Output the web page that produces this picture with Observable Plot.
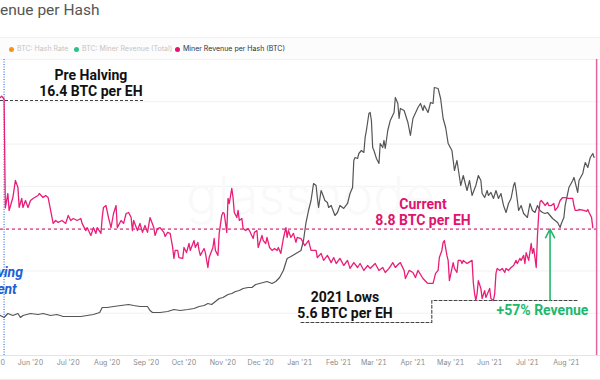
<!DOCTYPE html>
<html><head><meta charset="utf-8">
<script src="https://cdn.jsdelivr.net/npm/d3@7"></script>
<script src="https://cdn.jsdelivr.net/npm/@observablehq/plot@0.6"></script>
<style>
body{margin:0;width:600px;height:380px;overflow:hidden;background:#fff;position:relative;font-family:Inter,"Noto Sans",sans-serif}
#title{position:absolute;left:0;top:3px;font:15.5px/1 Roboto,sans-serif;color:#555;white-space:nowrap}
#legend{position:absolute;left:0;top:37px;width:600px;height:21px;background:#fcfcfc;border-top:1px solid #f1f1f1;border-bottom:1px solid #ebebeb}
.li{position:absolute;top:0;height:21px;line-height:21px;font-size:7px;white-space:nowrap;font-family:Inter,sans-serif}
.dot{display:inline-block;width:5px;height:5px;border-radius:50%;margin-right:3px;vertical-align:-0.5px}
#chart{position:absolute;left:0;top:59px;width:600px;height:321px}
#chart svg{position:absolute;left:0;top:0}
#foot{position:absolute;left:0;top:379px;width:600px;height:1px;background:#ececec}
</style></head>
<body>
<div id="title">enue per Hash</div>
<div id="legend"></div>
<div id="chart"></div>
<div id="foot"></div>
<script>
// ---- data ----
const legendItems = [
  {label: "BTC: Hash Rate", color: "#f7931a", active: false},
  {label: "BTC: Miner Revenue (Total)", color: "#2fbf8a", active: false},
  {label: "Miner Revenue per Hash (BTC)", color: "#e6126f", active: true}
];
const legendLeft = [9, 74, 175];

// Miner revenue per hash (BTC per EH)
const revenuePerHash = [
["2020-05-08",16.6],["2020-05-09",16.7],["2020-05-10",16.6],["2020-05-11",16.5],["2020-05-12",9.9],
["2020-05-14",10.67],["2020-05-15",9.76],["2020-05-18",10.45],["2020-05-20",11.4],["2020-05-22",11.01],
["2020-05-23",9.92],["2020-05-25",10.4],["2020-05-26",9.92],["2020-05-28",10.29],["2020-05-30",9.92],
["2020-06-01",10.29],["2020-06-03",10.4],["2020-06-07",10.56],["2020-06-08",10.67],["2020-06-11",10.45],
["2020-06-13",10.56],["2020-06-15",10.45],["2020-06-17",9.76],["2020-06-19",9.09],["2020-06-21",9.24],
["2020-06-23",9.14],["2020-06-26",9.24],["2020-06-29",9.09],["2020-07-01",9.5],["2020-07-03",9.24],
["2020-07-05",9.34],["2020-07-08",9.24],["2020-07-11",9.34],["2020-07-12",9.09],["2020-07-15",8.73],
["2020-07-16",8.88],["2020-07-19",8.49],["2020-07-21",8.88],["2020-07-23",8.59],["2020-07-24",8.88],
["2020-07-27",8.59],["2020-07-28",9.39],["2020-07-29",9.92],["2020-07-31",10.02],["2020-08-02",9.39],
["2020-08-04",8.88],["2020-08-06",9.6],["2020-08-08",10.02],["2020-08-09",8.88],["2020-08-12",9.24],
["2020-08-14",9.09],["2020-08-16",9.6],["2020-08-18",9.65],["2020-08-20",9.39],["2020-08-21",8.73],
["2020-08-22",9.24],["2020-08-25",8.73],["2020-08-27",9.09],["2020-08-29",8.64],["2020-08-31",8.99],
["2020-09-02",8.64],["2020-09-04",9.39],["2020-09-07",8.88],["2020-09-08",8.49],["2020-09-10",8.83],
["2020-09-12",8.88],["2020-09-15",8.64],["2020-09-16",8.44],["2020-09-18",8.64],["2020-09-20",8.59],
["2020-09-22",7.91],["2020-09-23",7.4],["2020-09-24",7.77],["2020-09-26",7.77],["2020-09-27",7.44],
["2020-09-30",7.4],["2020-10-01",7.91],["2020-10-03",7.67],["2020-10-05",8.1],["2020-10-06",7.77],
["2020-10-09",8.24],["2020-10-10",7.91],["2020-10-12",8.15],["2020-10-13",7.77],["2020-10-14",7.54],
["2020-10-17",7.86],["2020-10-18",7.67],["2020-10-20",6.99],["2020-10-21",7.44],["2020-10-24",7.91],
["2020-10-25",8.34],["2020-10-26",7.77],["2020-10-28",7.54],["2020-10-29",8.59],["2020-10-31",9.5],
["2020-11-01",9.65],["2020-11-02",9.6],["2020-11-04",8.64],["2020-11-05",10.4],["2020-11-06",10.13],
["2020-11-08",10.95],["2020-11-09",10.45],["2020-11-10",9.65],["2020-11-12",9.39],["2020-11-13",9.76],
["2020-11-14",9.24],["2020-11-16",9.34],["2020-11-17",8.83],["2020-11-19",8.73],["2020-11-21",8.83],
["2020-11-22",8.73],["2020-11-25",8.34],["2020-11-26",8.64],["2020-11-28",8.73],["2020-11-29",7.91],
["2020-12-02",8.49],["2020-12-03",8.24],["2020-12-05",8.1],["2020-12-06",8.39],["2020-12-08",7.91],
["2020-12-10",7.77],["2020-12-12",7.86],["2020-12-14",7.77],["2020-12-15",7.91],["2020-12-17",7.63],
["2020-12-18",8.0],["2020-12-19",8.34],["2020-12-21",8.88],["2020-12-22",8.39],["2020-12-23",8.73],
["2020-12-25",8.39],["2020-12-27",8.59],["2020-12-29",8.15],["2020-12-30",8.39],["2021-01-02",8.34],
["2021-01-05",8.0],["2021-01-08",8.24],["2021-01-10",7.77],["2021-01-14",7.77],["2021-01-15",7.44],
["2021-01-18",7.63],["2021-01-20",7.31],["2021-01-23",7.54],["2021-01-26",7.21],["2021-01-28",7.44],
["2021-01-30",7.17],["2021-02-02",7.4],["2021-02-05",7.08],["2021-02-08",7.31],["2021-02-10",6.95],
["2021-02-13",7.21],["2021-02-16",6.99],["2021-02-18",7.17],["2021-02-21",6.86],["2021-02-24",7.08],
["2021-02-26",6.95],["2021-03-02",7.17],["2021-03-05",6.86],["2021-03-08",6.99],["2021-03-10",6.77],
["2021-03-13",6.95],["2021-03-16",7.21],["2021-03-18",6.99],["2021-03-21",7.17],["2021-03-22",7.21],
["2021-03-25",6.86],["2021-03-26",6.51],["2021-03-29",6.86],["2021-04-01",6.77],["2021-04-03",6.55],
["2021-04-05",6.86],["2021-04-09",6.51],["2021-04-12",6.34],["2021-04-13",6.3],["2021-04-17",6.3],
["2021-04-19",6.73],["2021-04-21",6.86],["2021-04-22",7.44],["2021-04-24",7.77],["2021-04-25",8.15],
["2021-04-26",8.24],["2021-04-28",7.54],["2021-04-29",7.31],["2021-04-30",6.42],["2021-05-02",6.95],
["2021-05-03",7.21],["2021-05-04",6.95],["2021-05-06",6.77],["2021-05-07",7.31],["2021-05-09",7.31],
["2021-05-10",7.17],["2021-05-11",7.31],["2021-05-14",7.17],["2021-05-15",7.21],["2021-05-18",7.31],
["2021-05-19",6.34],["2021-05-20",5.88],["2021-05-21",5.6],["2021-05-22",5.88],["2021-05-23",6.42],
["2021-05-25",6.09],["2021-05-26",5.68],["2021-05-28",6.0],["2021-05-29",5.72],["2021-06-01",6.09],
["2021-06-02",5.68],["2021-06-04",5.6],["2021-06-05",5.88],["2021-06-06",6.73],["2021-06-07",6.95],
["2021-06-09",6.86],["2021-06-11",6.95],["2021-06-13",6.77],["2021-06-14",6.95],["2021-06-16",6.86],
["2021-06-18",6.99],["2021-06-20",7.08],["2021-06-22",7.31],["2021-06-23",7.17],["2021-06-25",7.4],
["2021-06-26",7.31],["2021-06-28",7.54],["2021-06-29",7.17],["2021-06-30",7.67],["2021-07-02",7.31],
["2021-07-04",8.1],["2021-07-05",7.63],["2021-07-06",7.86],["2021-07-07",7.44],["2021-07-08",6.99],
["2021-07-09",8.5],["2021-07-10",9.6],["2021-07-11",10.2],["2021-07-12",10.29],["2021-07-14",10.13],
["2021-07-15",10.02],["2021-07-17",10.18],["2021-07-18",10.02],["2021-07-20",10.02],["2021-07-22",10.13],
["2021-07-23",9.76],["2021-07-25",9.92],["2021-07-27",10.29],["2021-07-29",10.45],["2021-07-31",10.45],
["2021-08-02",10.4],["2021-08-04",10.4],["2021-08-06",10.4],["2021-08-07",10.02],["2021-08-08",9.76],
["2021-08-10",9.76],["2021-08-11",9.81],["2021-08-15",9.76],["2021-08-17",9.71],["2021-08-18",9.81],
["2021-08-19",9.65],["2021-08-21",9.39],["2021-08-22",8.88]
];

// BTC price (USD), grey line
const btcPrice = [
["2020-05-08",9460],["2020-05-11",8990],["2020-05-14",9930],["2020-05-18",9460],["2020-05-22",9930],
["2020-05-24",8990],["2020-05-26",9460],["2020-06-01",9930],["2020-06-07",9700],["2020-06-11",9930],
["2020-06-17",9460],["2020-06-22",9700],["2020-06-27",9220],["2020-07-03",9220],["2020-07-11",9220],
["2020-07-16",9460],["2020-07-21",9700],["2020-07-26",10170],["2020-07-28",11350],["2020-08-01",11350],
["2020-08-06",11590],["2020-08-12",11830],["2020-08-18",12060],["2020-08-22",11830],["2020-08-27",11590],
["2020-09-02",11590],["2020-09-04",10640],["2020-09-06",10170],["2020-09-12",10170],["2020-09-18",10400],
["2020-09-23",10880],["2020-09-28",10640],["2020-10-04",10880],["2020-10-09",11120],["2020-10-13",11590],
["2020-10-17",11830],["2020-10-20",12300],["2020-10-23",12060],["2020-10-26",12770],["2020-10-29",13480],
["2020-11-01",13720],["2020-11-05",14430],["2020-11-08",14660],["2020-11-11",15140],["2020-11-14",15370],
["2020-11-17",15850],["2020-11-21",16080],["2020-11-24",16080],["2020-11-27",16790],["2020-11-30",17030],
["2020-12-03",17260],["2020-12-06",17500],["2020-12-10",17030],["2020-12-13",17500],["2020-12-16",18450],
["2020-12-19",20100],["2020-12-22",22940],["2020-12-25",23410],["2020-12-29",24120],["2021-01-02",24830],
["2021-01-04",27200],["2021-01-06",31450],["2021-01-08",34290],["2021-01-10",36660],["2021-01-12",40680],
["2021-01-14",40200],["2021-01-15",37370],["2021-01-16",35000],["2021-01-18",39020],["2021-01-19",38310],
["2021-01-21",36660],["2021-01-23",36180],["2021-01-24",35000],["2021-01-26",35480],["2021-01-29",33110],
["2021-01-31",33820],["2021-02-02",35480],["2021-02-05",34770],["2021-02-08",35950],["2021-02-10",38310],
["2021-02-12",39730],["2021-02-13",46120],["2021-02-14",46830],["2021-02-16",46590],["2021-02-17",47770],
["2021-02-19",48480],["2021-02-21",48010],["2021-02-22",51560],["2021-02-23",53210],["2021-02-25",57230],
["2021-02-26",57470],["2021-02-27",55580],["2021-02-28",49190],["2021-03-01",48480],["2021-03-03",46590],
["2021-03-05",45410],["2021-03-06",50140],["2021-03-08",49190],["2021-03-09",50850],["2021-03-10",48960],
["2021-03-12",53210],["2021-03-14",55580],["2021-03-17",57470],["2021-03-18",61020],["2021-03-20",59600],
["2021-03-21",56050],["2021-03-22",58420],["2021-03-25",57940],["2021-03-28",55100],["2021-03-30",52030],
["2021-04-01",56050],["2021-04-05",58650],["2021-04-07",59600],["2021-04-09",57940],["2021-04-10",59130],
["2021-04-13",57470],["2021-04-15",59830],["2021-04-17",59600],["2021-04-18",63380],["2021-04-21",63150],
["2021-04-22",61960],["2021-04-23",60780],["2021-04-25",56050],["2021-04-27",53920],["2021-04-29",50140],
["2021-05-02",48480],["2021-05-04",43750],["2021-05-06",46120],["2021-05-09",40200],["2021-05-11",42570],
["2021-05-14",39020],["2021-05-16",41390],["2021-05-18",37840],["2021-05-21",40200],["2021-05-23",42570],
["2021-05-25",41390],["2021-05-26",38310],["2021-05-28",37370],["2021-05-30",39020],["2021-05-31",37840],
["2021-06-02",38550],["2021-06-04",37130],["2021-06-06",39020],["2021-06-08",37130],["2021-06-10",38310],
["2021-06-12",35480],["2021-06-14",33820],["2021-06-16",35950],["2021-06-18",37130],["2021-06-20",40200],
["2021-06-21",40910],["2021-06-22",39020],["2021-06-24",34290],["2021-06-26",35480],["2021-06-28",33580],
["2021-07-01",32640],["2021-07-03",35950],["2021-07-05",34290],["2021-07-07",33820],["2021-07-09",35480],
["2021-07-11",34290],["2021-07-13",33820],["2021-07-15",33580],["2021-07-17",33820],["2021-07-19",33110],
["2021-07-21",32400],["2021-07-23",31930],["2021-07-25",31450],["2021-07-27",30270],["2021-07-28",31220],
["2021-07-30",32640],["2021-07-31",35480],["2021-08-02",38310],["2021-08-03",39730],["2021-08-06",41390],
["2021-08-07",42100],["2021-08-09",39730],["2021-08-10",38550],["2021-08-11",41390],["2021-08-14",43040],
["2021-08-15",44460],["2021-08-16",45640],["2021-08-18",44460],["2021-08-19",45640],["2021-08-20",46830],
["2021-08-22",47770],["2021-08-23",46830]
];

const priceGrid = [10000, 20000, 30000, 40000, 50000, 60000, 70000];
const monthTicks = d3.utcMonth.range(new Date("2020-05-01"), new Date("2021-08-02"));
const xDomain = [new Date("2020-05-08T03:36Z"), new Date("2021-08-28T02:24Z")];
const halvingDate = new Date("2020-05-11");
const todayDate = new Date("2021-08-25");

const preHalvingLevel = 16.4;
const currentLevel = 8.8;
const lowLevel = 5.6;
const preHalvingLineEnd = new Date("2020-08-31");
const lowsBracket = [["2021-01-02", 4.76], ["2021-04-16", 4.76], ["2021-04-16", 5.6], ["2021-08-11", 5.6]];
const revenueArrow = [{date: "2021-07-19", from: 5.6, to: 8.8}];

const notes = [
  {date: "2020-07-19", level: 16.4, head: "Pre Halving", body: "16.4 BTC per EH", color: "#111"},
  {date: "2021-04-09", level: 8.8, head: "Current", body: "8.8 BTC per EH", color: "#e0136f"},
  {date: "2021-02-06", level: 4.76, head: "2021 Lows", body: "5.6 BTC per EH", color: "#111"}
];
const gainNote = [{date: "2021-07-13", level: 5.6, text: "+57% Revenue"}];
const halvingNote = [{date: "2020-05-10", level: 5.88, text: "Halving\nEvent"}];

// ---- legend ----
const leg = document.getElementById("legend");
legendItems.forEach((d, i) => {
  const s = document.createElement("span");
  s.className = "li";
  s.style.left = legendLeft[i] + "px";
  s.style.color = d.active ? "#333" : "#c4c4c4";
  s.innerHTML = `<span class="dot" style="background:${d.color}"></span>${d.label}`;
  leg.appendChild(s);
});

// ---- charts ----
const W = 600, H = 321, MB = 25;
const D = d => new Date(d);

const base = Plot.plot({
  width: W, height: H, marginTop: 0, marginBottom: MB, marginLeft: 0, marginRight: 0,
  x: {type: "utc", domain: xDomain, ticks: monthTicks, tickFormat: d3.utcFormat("%b '%y"), tickSize: 0, tickPadding: 5, label: null},
  y: {domain: [0, 70000], axis: null},
  style: {fontFamily: "Inter, sans-serif", fontSize: "7px", color: "#8a8a8a", background: "white"},
  marks: [
    Plot.ruleY(priceGrid, {stroke: "#f1f1f1"}),
    Plot.ruleY([0], {stroke: "#e4e4e4"}),
    Plot.text(["glassnode"], {frameAnchor: "middle", dx: 10, dy: -10, fontSize: 52, fontWeight: 300, fill: "#f9f9f9", fontFamily: "Inter"}),
    Plot.line(btcPrice, {x: d => D(d[0]), y: d => d[1], stroke: "#555", strokeWidth: 1.2})
  ]
});

const over = Plot.plot({
  width: W, height: H, marginTop: 0, marginBottom: MB, marginLeft: 0, marginRight: 0,
  x: {type: "utc", domain: xDomain, axis: null},
  y: {type: "sqrt", domain: [3.623, 19.31], axis: null},
  style: {background: "transparent", fontFamily: "Roboto, sans-serif"},
  marks: [
    Plot.ruleX([halvingDate], {stroke: "#3a78d8", strokeWidth: 1.2, strokeDasharray: "1,1.5"}),
    Plot.ruleX([todayDate], {stroke: "#e463a3", strokeWidth: 1.5}),
    Plot.ruleY([preHalvingLevel], {x1: xDomain[0], x2: preHalvingLineEnd, stroke: "#444", strokeWidth: 1.1, strokeDasharray: "3,2"}),
    Plot.ruleY([currentLevel], {x1: xDomain[0], x2: todayDate, stroke: "#e0307f", strokeWidth: 1.1, strokeDasharray: "3,3"}),
    Plot.line(lowsBracket, {x: d => D(d[0]), y: d => d[1], stroke: "#444", strokeWidth: 1.1, strokeDasharray: "3,2"}),
    Plot.line(revenuePerHash, {x: d => D(d[0]), y: d => d[1], stroke: "#ea1d78", strokeWidth: 1.3}),
    Plot.arrow(revenueArrow, {x1: d => D(d.date), x2: d => D(d.date), y1: "from", y2: "to", stroke: "#22b76c", strokeWidth: 1.6, headLength: 9, headAngle: 55}),
    Plot.text(notes, {x: d => D(d.date), y: "level", text: "body", fill: "color", dy: -4, lineAnchor: "bottom", fontSize: 14, fontWeight: 700}),
    Plot.text(notes, {x: d => D(d.date), y: "level", text: "head", fill: "color", dy: -20, lineAnchor: "bottom", fontSize: 14, fontWeight: 700, ariaLabel: "underlined"}),
    Plot.text(gainNote, {x: d => D(d.date), y: "level", text: "text", fill: "#22b76c", dy: 15, lineAnchor: "bottom", fontSize: 14, fontWeight: 700}),
    Plot.text(halvingNote, {x: d => D(d.date), y: "level", text: "text", fill: "#1a62d6", dx: -3, lineAnchor: "bottom", lineHeight: 1.15, fontSize: 14, fontWeight: 700, fontStyle: "italic"})
  ]
});
over.querySelectorAll('g[aria-label="underlined"] text').forEach(t => { t.style.textDecoration = "underline"; });

const chart = document.getElementById("chart");
chart.appendChild(base);
chart.appendChild(over);
</script>
</body></html>
